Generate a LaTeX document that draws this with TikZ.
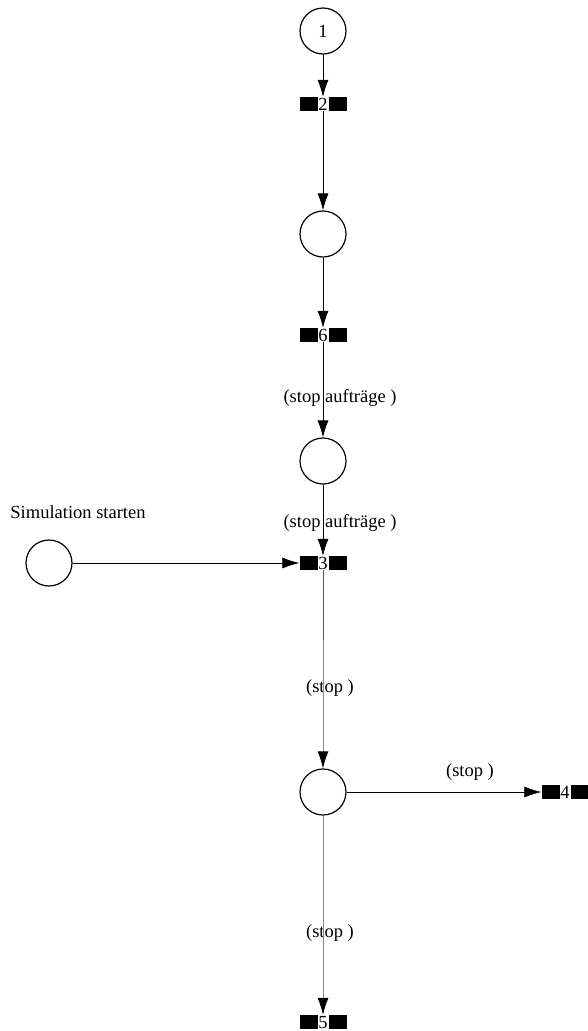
\documentclass[tikz,border=0pt]{standalone}
\usepackage{fontspec}
\setmainfont{Liberation Serif}
\usetikzlibrary{arrows.meta}
\begin{document}
\begin{tikzpicture}[x=1pt,y=-1pt,
  every node/.style={font=\fontsize{18.5}{20}\selectfont},
  place/.style={circle, draw=black, line width=1.2pt, minimum size=46pt, inner sep=0pt},
  trans/.style={rectangle, fill=black, minimum width=47pt, minimum height=14pt, inner sep=0pt},
  tlabel/.style={fill=white, inner sep=0pt, minimum width=11pt, minimum height=14pt, text height=12pt, text depth=0pt},
  lbl/.style={inner sep=1pt},
  arc/.style={draw=black, line width=0.7pt, -{Latex[length=17pt,width=11pt,color=black]}},
  grayarc/.style={draw=black!45, line width=0.8pt, -{Latex[length=17pt,width=11pt,color=black]}}
]
\useasboundingbox (0,0) rectangle (588,1031);

\node[place] (p1) at (323,31) {1};
\node[trans] (t2) at (323,104) {};
\node[tlabel] (t2l) at (t2) {2};
\node[place] (p2) at (323,234) {};
\node[trans] (t6) at (323,335) {};
\node[tlabel] (t6l) at (t6) {6};
\node[place] (p3) at (323,461) {};
\node[trans] (t3) at (323,563) {};
\node[tlabel] (t3l) at (t3) {3};
\node[place] (ps) at (49,563) {};
\node[place] (p4) at (323,792) {};
\node[trans] (t4) at (565,792) {};
\node[tlabel] (t4l) at (t4) {4};
\node[trans] (t5) at (323,1022) {};
\node[tlabel] (t5l) at (t5) {5};

\node[lbl] (ls) at (78,512) {Simulation starten};
\node[lbl] (l1) at (340,398) {(stop aufträge )};
\node[lbl] (l2) at (340,523) {(stop aufträge )};
\node[lbl] (l3) at (330,688) {(stop )};
\node[lbl] (l4) at (470,772) {(stop )};
\node[lbl] (l5) at (330,933) {(stop )};

\coordinate (mid) at (323,640);

\draw[arc] (p1) -- (t2.north);
\draw[arc] (t2.south) -- (p2);
\draw[arc] (p2) -- (t6.north);
\draw[arc] (t6.south) -- (p3);
\draw[arc] (p3) -- (t3.north);
\draw[arc] (ps) -- (t3.west);
\draw[draw=black!65, line width=0.7pt] (t3.south) -- (mid);
\draw[grayarc] (mid) -- (p4);
\draw[arc] (p4) -- (t4.west);
\draw[grayarc] (p4) -- (t5.north);
\end{tikzpicture}
\end{document}
